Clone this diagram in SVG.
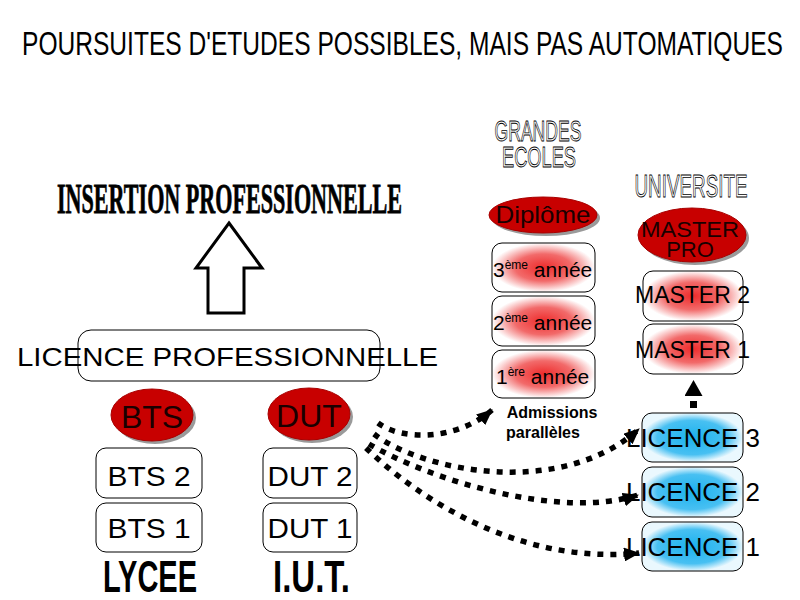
<svg xmlns="http://www.w3.org/2000/svg" width="800" height="600" viewBox="0 0 800 600">
<defs>
  <radialGradient id="gRed" cx="50%" cy="50%" r="50%">
    <stop offset="0" stop-color="#ee2c2c"/>
    <stop offset="0.55" stop-color="#f26a6a"/>
    <stop offset="1" stop-color="#ffffff"/>
  </radialGradient>
  <radialGradient id="gBlue" cx="50%" cy="50%" r="50%">
    <stop offset="0" stop-color="#1cb2ee"/>
    <stop offset="0.7" stop-color="#48c0f2"/>
    <stop offset="1" stop-color="#eaf8fe"/>
  </radialGradient>
  <marker id="ah" viewBox="0 0 16 14" refX="15" refY="7" markerWidth="16" markerHeight="14" markerUnits="userSpaceOnUse" orient="auto">
    <path d="M0,0 L16,7 L0,14 z" fill="#000"/>
  </marker>
  <marker id="ahs" viewBox="0 0 16 18" refX="0" refY="9" markerWidth="16" markerHeight="18" markerUnits="userSpaceOnUse" orient="auto">
    <path d="M0,0 L16,9 L0,18 z" fill="#000"/>
  </marker>
</defs>
<style>
  text { font-family: "Liberation Sans", Arial, sans-serif; fill: #000; }
  .box { stroke: #000; stroke-width: 1; }
  .red { fill: url(#gRed); }
  .blue { fill: url(#gBlue); }
  .oval { fill: #c80000; stroke: #a80000; stroke-width: 1; }
  .shadow { fill: #9a9a9a; }
  .ovtxt { fill: #1a0000; }
  .outl { fill: #fff; stroke: #000; stroke-width: 0.9; }
  .dot { fill: none; stroke: #000; stroke-width: 5.5; stroke-dasharray: 6 7; marker-end: url(#ah); }
  .bold { font-weight: bold; }
  .serif { font-family: "Liberation Serif", "Times New Roman", serif; font-weight: bold; stroke: #000; stroke-width: 0.8; }
</style>
<rect width="800" height="600" fill="#fff"/>

<g id="title">
  <text x="22" y="55" font-size="33" textLength="761" lengthAdjust="spacingAndGlyphs">POURSUITES D'ETUDES POSSIBLES, MAIS PAS AUTOMATIQUES</text>
</g>

<g id="insertion">
  <text class="serif" x="57" y="213" font-size="42" textLength="345" lengthAdjust="spacingAndGlyphs">INSERTION PROFESSIONNELLE</text>
</g>

<g id="big-arrow">
  <polygon points="229,223 262,268 244,268 244,313 208,313 208,268 196,268" fill="#fff" stroke="#000" stroke-width="3" stroke-linejoin="miter"/>
</g>

<g id="licence-pro">
  <rect class="box" x="78" y="330" width="302" height="51" rx="13" fill="#fff"/>
  <text x="17" y="366" font-size="25" textLength="421" lengthAdjust="spacingAndGlyphs">LICENCE  PROFESSIONNELLE</text>
</g>

<g id="bts">
  <ellipse class="shadow" cx="155" cy="418" rx="41" ry="26"/>
  <ellipse class="oval" cx="152" cy="415" rx="41" ry="26"/>
  <text class="ovtxt" x="152" y="428" font-size="32" text-anchor="middle">BTS</text>
</g>
<g id="dut">
  <ellipse class="shadow" cx="312" cy="417" rx="41" ry="26"/>
  <ellipse class="oval" cx="309" cy="414" rx="41" ry="26"/>
  <text class="ovtxt" x="309" y="427" font-size="32" text-anchor="middle">DUT</text>
</g>

<g id="bts2">
  <rect class="box" x="96" y="448" width="106" height="50" rx="10" fill="#fff"/>
  <text x="149" y="486" font-size="28" text-anchor="middle" textLength="83" lengthAdjust="spacingAndGlyphs">BTS 2</text>
</g>
<g id="bts1">
  <rect class="box" x="96" y="503" width="106" height="49" rx="10" fill="#fff"/>
  <text x="149" y="538" font-size="28" text-anchor="middle" textLength="83" lengthAdjust="spacingAndGlyphs">BTS 1</text>
</g>
<g id="dut2">
  <rect class="box" x="263" y="448" width="94" height="50" rx="10" fill="#fff"/>
  <text x="310" y="486" font-size="28" text-anchor="middle" textLength="85" lengthAdjust="spacingAndGlyphs">DUT 2</text>
</g>
<g id="dut1">
  <rect class="box" x="263" y="503" width="94" height="49" rx="10" fill="#fff"/>
  <text x="310" y="538" font-size="28" text-anchor="middle" textLength="85" lengthAdjust="spacingAndGlyphs">DUT 1</text>
</g>

<g id="lycee">
  <text x="103" y="592" font-size="45" font-weight="bold" textLength="94" lengthAdjust="spacingAndGlyphs">LYCEE</text>
</g>
<g id="iut">
  <text x="273" y="592" font-size="45" font-weight="bold" textLength="77" lengthAdjust="spacingAndGlyphs">I.U.T.</text>
</g>

<g id="grandes-ecoles">
  <text class="outl" x="538" y="141" font-size="30" text-anchor="middle" textLength="87" lengthAdjust="spacingAndGlyphs">GRANDES</text>
  <text class="outl" x="539" y="167" font-size="30" text-anchor="middle" textLength="74" lengthAdjust="spacingAndGlyphs">ECOLES</text>
</g>

<g id="diplome">
  <ellipse class="shadow" cx="546" cy="218" rx="54" ry="18"/>
  <ellipse class="oval" cx="543" cy="215" rx="54" ry="18"/>
  <text class="ovtxt" x="543" y="223" font-size="24" text-anchor="middle" textLength="95" lengthAdjust="spacingAndGlyphs">Diplôme</text>
</g>

<g id="annee3">
  <rect class="box red" x="492" y="243" width="103" height="49" rx="10"/>
  <text x="493" y="277" font-size="21">3<tspan font-size="12" dy="-8">ème</tspan><tspan dy="8"> année</tspan></text>
</g>
<g id="annee2">
  <rect class="box red" x="492" y="296" width="103" height="50" rx="10"/>
  <text x="493" y="330" font-size="21">2<tspan font-size="12" dy="-8">ème</tspan><tspan dy="8"> année</tspan></text>
</g>
<g id="annee1">
  <rect class="box red" x="492" y="350" width="103" height="48" rx="10"/>
  <text x="496" y="384" font-size="21">1<tspan font-size="12" dy="-8">ère</tspan><tspan dy="8"> année</tspan></text>
</g>

<g id="admissions">
  <text class="bold" x="552" y="418" font-size="16" text-anchor="middle">Admissions</text>
  <text class="bold" x="543" y="438" font-size="16" text-anchor="middle">parallèles</text>
</g>

<g id="universite">
  <text class="outl" x="691" y="197" font-size="32" text-anchor="middle" textLength="113" lengthAdjust="spacingAndGlyphs">UNIVERSITE</text>
</g>

<g id="master-pro">
  <ellipse class="shadow" cx="695" cy="238" rx="54" ry="27"/>
  <ellipse class="oval" cx="692" cy="235" rx="54" ry="27"/>
  <text class="ovtxt" x="690" y="237" font-size="22" text-anchor="middle" textLength="98" lengthAdjust="spacingAndGlyphs">MASTER</text>
  <text class="ovtxt" x="690" y="257" font-size="22" text-anchor="middle">PRO</text>
</g>

<g id="master2">
  <rect class="box red" x="643" y="271" width="100" height="50" rx="10"/>
  <text x="635" y="303" font-size="23" textLength="115" lengthAdjust="spacingAndGlyphs">MASTER 2</text>
</g>
<g id="master1">
  <rect class="box red" x="643" y="324" width="100" height="50" rx="10"/>
  <text x="635" y="358" font-size="23" textLength="115" lengthAdjust="spacingAndGlyphs">MASTER 1</text>
</g>

<g id="licence3">
  <rect class="box blue" x="642" y="413" width="101" height="49" rx="10"/>
  <text x="626" y="447" font-size="26" textLength="134" lengthAdjust="spacingAndGlyphs">LICENCE 3</text>
</g>
<g id="licence2">
  <rect class="box blue" x="642" y="467" width="101" height="50" rx="10"/>
  <text x="626" y="501" font-size="26" textLength="134" lengthAdjust="spacingAndGlyphs">LICENCE 2</text>
</g>
<g id="licence1">
  <rect class="box blue" x="642" y="522" width="101" height="49" rx="10"/>
  <text x="626" y="556" font-size="26" textLength="134" lengthAdjust="spacingAndGlyphs">LICENCE 1</text>
</g>

<g id="connectors">
  <path class="dot" d="M378 423 C400 440 455 442 492 410"/>
  <path class="dot" d="M374 434 C420 470 560 500 639 429"/>
  <path class="dot" d="M369 444 C430 480 560 520 638 495"/>
  <path class="dot" d="M366 448 C420 500 520 565 639 553"/>
  <path d="M693.5 408 L693.5 396" fill="none" stroke="#000" stroke-width="7" stroke-dasharray="7 5" marker-end="url(#ahs)"/>
</g>
</svg>
